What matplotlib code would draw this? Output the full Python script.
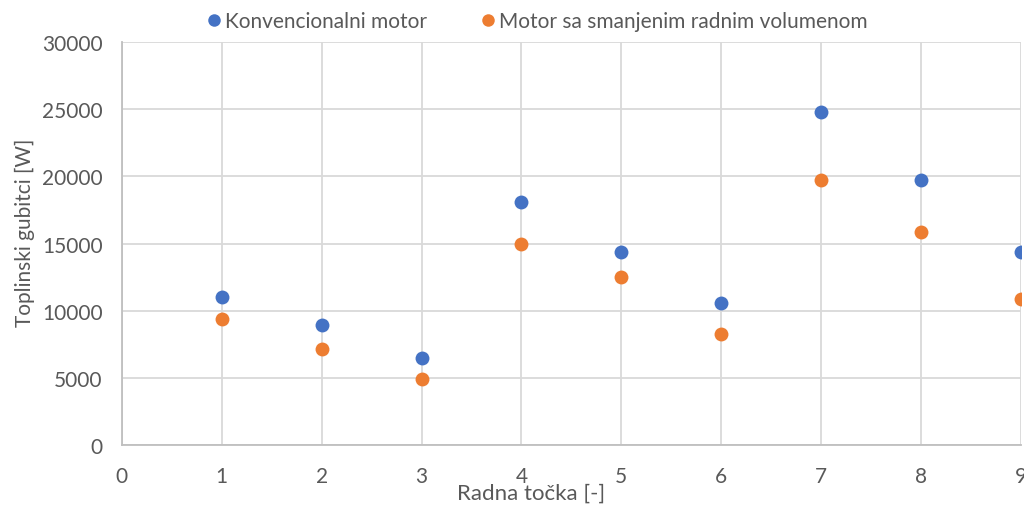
import matplotlib.pyplot as plt

# Radne točke i toplinski gubitci [W]
tocke = [1, 2, 3, 4, 5, 6, 7, 8, 9]
konvencionalni = [11000, 8900, 6500, 18100, 14400, 10550, 24800, 19700, 14400]
smanjeni = [9400, 7150, 4950, 15000, 12500, 8250, 19700, 15850, 10850]

plt.rcParams['font.family'] = ['Lato', 'DejaVu Sans']
txt = '#595959'
grid = '#D9D9D9'

fig = plt.figure(figsize=(10.24, 5.06), dpi=100)
ax = fig.add_axes([0.119, 0.1186, 0.878, 0.796])

ax.plot(tocke, konvencionalni, 'o', color='#4472C4', ms=10, mec='none',
        label='Konvencionalni motor', zorder=3)
ax.plot(tocke, smanjeni, 'o', color='#ED7D31', ms=10, mec='none',
        label='Motor sa smanjenim radnim volumenom', zorder=3)

ax.set_xlim(0, 9)
ax.set_ylim(0, 30000)
ax.set_xticks(range(0, 10))
ax.set_yticks(range(0, 30001, 5000))
ax.grid(True, color=grid, lw=1.3)
ax.set_axisbelow(True)
for s in ['top', 'right']:
    ax.spines[s].set_visible(False)
for s in ['left', 'bottom']:
    ax.spines[s].set_color('#BFBFBF')
    ax.spines[s].set_linewidth(1.3)
ax.tick_params(length=0, labelsize=15, labelcolor=txt)
ax.tick_params(axis='x', pad=15)
ax.tick_params(axis='y', pad=14)

ax.set_xlabel('Radna točka [-]', fontsize=16, color=txt)
ax.xaxis.set_label_coords(0.455, -0.118, transform=ax.transAxes)
ax.xaxis.label.set_va('center')
ax.set_ylabel('Toplinski gubitci [W]', fontsize=15, color=txt)
ax.yaxis.set_label_coords(-0.097, 0.53)

ax.legend(loc='center', bbox_to_anchor=(0.462, 1.052), ncol=2, frameon=False,
          fontsize=15, labelcolor=txt, handlelength=0.7, handletextpad=0.15,
          columnspacing=2.6, markerscale=0.9)

fig.savefig('out.png', dpi=100)
